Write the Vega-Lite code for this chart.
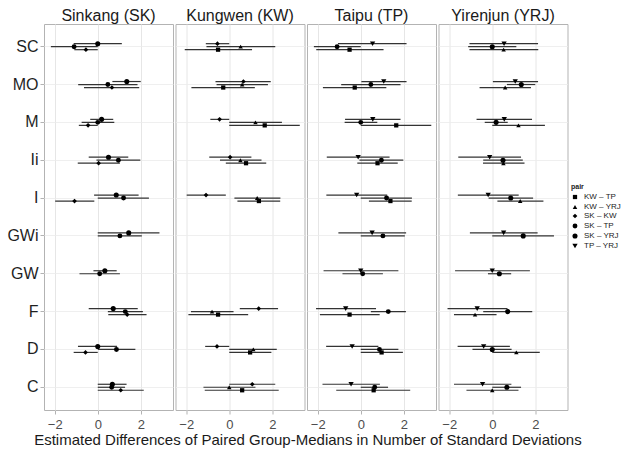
{
  "$schema": "https://vega.github.io/schema/vega-lite/v6.json",
  "padding": {"left": 6, "top": 8, "right": 0, "bottom": 4},
  "background": "white",
  "bounds": "flush",
  "title": {"text": "Estimated Differences of Paired Group-Medians in Number of Standard Deviations", "orient": "bottom", "anchor": "middle", "frame": "bounds", "dx": -6, "fontSize": 15, "fontWeight": "normal", "color": "#1a1a1a", "offset": 2},
  "data": {"values": [
    {"pair": "SK – YRJ", "site": ["Sinkang (SK)", "Yirenjun (YRJ)"], "cat": "SC", "est": 0, "lo": -1.12, "hi": 1.12},
    {"pair": "SK – YRJ", "site": ["Sinkang (SK)", "Yirenjun (YRJ)"], "cat": "MO", "est": 1.35, "lo": 0.68, "hi": 2.0},
    {"pair": "SK – YRJ", "site": ["Sinkang (SK)", "Yirenjun (YRJ)"], "cat": "M", "est": 0.18, "lo": -0.35, "hi": 0.72},
    {"pair": "SK – YRJ", "site": ["Sinkang (SK)", "Yirenjun (YRJ)"], "cat": "Ii", "est": 0.5, "lo": -0.42, "hi": 1.42},
    {"pair": "SK – YRJ", "site": ["Sinkang (SK)", "Yirenjun (YRJ)"], "cat": "I", "est": 0.86, "lo": -0.17, "hi": 1.9},
    {"pair": "SK – YRJ", "site": ["Sinkang (SK)", "Yirenjun (YRJ)"], "cat": "GWi", "est": 1.44, "lo": 0, "hi": 2.87},
    {"pair": "SK – YRJ", "site": ["Sinkang (SK)", "Yirenjun (YRJ)"], "cat": "GW", "est": 0.33, "lo": -0.2, "hi": 0.88},
    {"pair": "SK – YRJ", "site": ["Sinkang (SK)", "Yirenjun (YRJ)"], "cat": "F", "est": 0.72, "lo": -0.42, "hi": 1.86},
    {"pair": "SK – YRJ", "site": ["Sinkang (SK)", "Yirenjun (YRJ)"], "cat": "D", "est": 0, "lo": -0.92, "hi": 0.9},
    {"pair": "SK – YRJ", "site": ["Sinkang (SK)", "Yirenjun (YRJ)"], "cat": "C", "est": 0.68, "lo": 0, "hi": 1.34},

    {"pair": "SK – TP", "site": ["Sinkang (SK)", "Taipu (TP)"], "cat": "SC", "est": -1.1, "lo": -2.18, "hi": 0},
    {"pair": "SK – TP", "site": ["Sinkang (SK)", "Taipu (TP)"], "cat": "MO", "est": 0.47, "lo": -0.91, "hi": 1.85},
    {"pair": "SK – TP", "site": ["Sinkang (SK)", "Taipu (TP)"], "cat": "M", "est": 0, "lo": -0.75, "hi": 0.77},
    {"pair": "SK – TP", "site": ["Sinkang (SK)", "Taipu (TP)"], "cat": "Ii", "est": 0.96, "lo": -0.06, "hi": 1.98},
    {"pair": "SK – TP", "site": ["Sinkang (SK)", "Taipu (TP)"], "cat": "I", "est": 1.2, "lo": 0, "hi": 2.38},
    {"pair": "SK – TP", "site": ["Sinkang (SK)", "Taipu (TP)"], "cat": "GWi", "est": 1.03, "lo": 0, "hi": 2.05},
    {"pair": "SK – TP", "site": ["Sinkang (SK)", "Taipu (TP)"], "cat": "GW", "est": 0.09, "lo": -0.85, "hi": 1.03},
    {"pair": "SK – TP", "site": ["Sinkang (SK)", "Taipu (TP)"], "cat": "F", "est": 1.28, "lo": 0.47, "hi": 2.1},
    {"pair": "SK – TP", "site": ["Sinkang (SK)", "Taipu (TP)"], "cat": "D", "est": 0.87, "lo": 0, "hi": 1.75},
    {"pair": "SK – TP", "site": ["Sinkang (SK)", "Taipu (TP)"], "cat": "C", "est": 0.65, "lo": 0, "hi": 1.27},

    {"pair": "SK – KW", "site": ["Sinkang (SK)", "Kungwen (KW)"], "cat": "SC", "est": -0.55, "lo": -1.09, "hi": 0},
    {"pair": "SK – KW", "site": ["Sinkang (SK)", "Kungwen (KW)"], "cat": "MO", "est": 0.66, "lo": -0.64, "hi": 1.93},
    {"pair": "SK – KW", "site": ["Sinkang (SK)", "Kungwen (KW)"], "cat": "M", "est": -0.45, "lo": -0.88, "hi": 0},
    {"pair": "SK – KW", "site": ["Sinkang (SK)", "Kungwen (KW)"], "cat": "Ii", "est": 0.04, "lo": -0.93, "hi": 1.03},
    {"pair": "SK – KW", "site": ["Sinkang (SK)", "Kungwen (KW)"], "cat": "I", "est": -1.08, "lo": -1.98, "hi": -0.16},
    {"pair": "SK – KW", "site": ["Sinkang (SK)", "Kungwen (KW)"], "cat": "F", "est": 1.37, "lo": 0.49, "hi": 2.27},
    {"pair": "SK – KW", "site": ["Sinkang (SK)", "Kungwen (KW)"], "cat": "D", "est": -0.57, "lo": -1.12, "hi": 0},
    {"pair": "SK – KW", "site": ["Sinkang (SK)", "Kungwen (KW)"], "cat": "C", "est": 1.07, "lo": 0, "hi": 2.14},

    {"pair": "KW – YRJ", "site": ["Kungwen (KW)", "Yirenjun (YRJ)"], "cat": "SC", "est": 0.53, "lo": -1.06, "hi": 2.14},
    {"pair": "KW – YRJ", "site": ["Kungwen (KW)", "Yirenjun (YRJ)"], "cat": "MO", "est": 0.6, "lo": -0.59, "hi": 1.8},
    {"pair": "KW – YRJ", "site": ["Kungwen (KW)", "Yirenjun (YRJ)"], "cat": "M", "est": 1.22, "lo": 0, "hi": 2.45},
    {"pair": "KW – YRJ", "site": ["Kungwen (KW)", "Yirenjun (YRJ)"], "cat": "Ii", "est": 0.52, "lo": -0.43, "hi": 1.5},
    {"pair": "KW – YRJ", "site": ["Kungwen (KW)", "Yirenjun (YRJ)"], "cat": "I", "est": 1.3, "lo": 0.24, "hi": 2.38},
    {"pair": "KW – YRJ", "site": ["Kungwen (KW)", "Yirenjun (YRJ)"], "cat": "F", "est": -0.8, "lo": -1.78, "hi": 0.2},
    {"pair": "KW – YRJ", "site": ["Kungwen (KW)", "Yirenjun (YRJ)"], "cat": "D", "est": 1.12, "lo": 0, "hi": 2.21},
    {"pair": "KW – YRJ", "site": ["Kungwen (KW)", "Yirenjun (YRJ)"], "cat": "C", "est": 0, "lo": -1.2, "hi": 1.22},

    {"pair": "KW – TP", "site": ["Kungwen (KW)", "Taipu (TP)"], "cat": "SC", "est": -0.52, "lo": -2.07, "hi": 1.06},
    {"pair": "KW – TP", "site": ["Kungwen (KW)", "Taipu (TP)"], "cat": "MO", "est": -0.28, "lo": -1.76, "hi": 1.19},
    {"pair": "KW – TP", "site": ["Kungwen (KW)", "Taipu (TP)"], "cat": "M", "est": 1.65, "lo": 0, "hi": 3.28},
    {"pair": "KW – TP", "site": ["Kungwen (KW)", "Taipu (TP)"], "cat": "Ii", "est": 0.78, "lo": -0.16, "hi": 1.72},
    {"pair": "KW – TP", "site": ["Kungwen (KW)", "Taipu (TP)"], "cat": "I", "est": 1.38, "lo": 0.38, "hi": 2.37},
    {"pair": "KW – TP", "site": ["Kungwen (KW)", "Taipu (TP)"], "cat": "F", "est": -0.52, "lo": -1.9, "hi": 0.88},
    {"pair": "KW – TP", "site": ["Kungwen (KW)", "Taipu (TP)"], "cat": "D", "est": 0.97, "lo": 0, "hi": 1.96},
    {"pair": "KW – TP", "site": ["Kungwen (KW)", "Taipu (TP)"], "cat": "C", "est": 0.6, "lo": -1.14, "hi": 2.3},

    {"pair": "TP – YRJ", "site": ["Taipu (TP)", "Yirenjun (YRJ)"], "cat": "SC", "est": 0.55, "lo": -1.06, "hi": 2.13},
    {"pair": "TP – YRJ", "site": ["Taipu (TP)", "Yirenjun (YRJ)"], "cat": "MO", "est": 1.07, "lo": 0.03, "hi": 2.13},
    {"pair": "TP – YRJ", "site": ["Taipu (TP)", "Yirenjun (YRJ)"], "cat": "M", "est": 0.56, "lo": -0.73, "hi": 1.85},
    {"pair": "TP – YRJ", "site": ["Taipu (TP)", "Yirenjun (YRJ)"], "cat": "Ii", "est": -0.12, "lo": -1.58, "hi": 1.34},
    {"pair": "TP – YRJ", "site": ["Taipu (TP)", "Yirenjun (YRJ)"], "cat": "I", "est": -0.19, "lo": -1.6, "hi": 1.23},
    {"pair": "TP – YRJ", "site": ["Taipu (TP)", "Yirenjun (YRJ)"], "cat": "GWi", "est": 0.53, "lo": -1.04, "hi": 2.11},
    {"pair": "TP – YRJ", "site": ["Taipu (TP)", "Yirenjun (YRJ)"], "cat": "GW", "est": 0, "lo": -1.73, "hi": 1.75},
    {"pair": "TP – YRJ", "site": ["Taipu (TP)", "Yirenjun (YRJ)"], "cat": "F", "est": -0.7, "lo": -2.08, "hi": 0.71},
    {"pair": "TP – YRJ", "site": ["Taipu (TP)", "Yirenjun (YRJ)"], "cat": "D", "est": -0.4, "lo": -1.61, "hi": 0.82},
    {"pair": "TP – YRJ", "site": ["Taipu (TP)", "Yirenjun (YRJ)"], "cat": "C", "est": -0.45, "lo": -1.78, "hi": 0.89}
  ]},
  "transform": [{"flatten": ["site"]}],
  "facet": {
    "column": {
      "field": "site", "type": "nominal",
      "sort": ["Sinkang (SK)", "Kungwen (KW)", "Taipu (TP)", "Yirenjun (YRJ)"],
      "header": {"title": null, "labelFontSize": 16, "labelColor": "#1a1a1a", "labelPadding": 0}
    }
  },
  "spacing": 2.5,
  "spec": {
    "width": 129,
    "height": 386,
    "encoding": {
      "y": {
        "field": "cat", "type": "nominal", "title": null,
        "sort": ["SC", "MO", "M", "Ii", "I", "GWi", "GW", "F", "D", "C"],
        "scale": {"type": "band", "paddingInner": 0, "paddingOuter": 0.1},
        "axis": {"labelFontSize": 16, "labelColor": "#1f1f1f", "tickColor": "#b3b3b3", "tickSize": 4, "labelPadding": 2, "domain": false, "grid": true, "gridColor": "#ebebeb", "gridWidth": 0.8}
      },
      "yOffset": {
        "field": "pair", "type": "nominal", "sort": "descending",
        "scale": {"type": "point", "range": [14.4, 23.4]}
      }
    },
    "layer": [
      {
        "mark": {"type": "rule", "color": "#333333", "strokeWidth": 1.2},
        "encoding": {
          "x": {
            "field": "lo", "type": "quantitative", "title": null,
            "scale": {"domain": [-2.5, 3.5], "nice": false, "zero": false},
            "axis": {
              "values": [-2, -1, 0, 1, 2, 3],
              "labelExpr": "datum.value % 2 === 0 ? datum.label : ''",
              "labelFontSize": 13, "labelColor": "#4d4d4d", "labelPadding": 4,
              "tickSize": 4,
              "tickColor": {"condition": {"test": "datum.value % 2 === 0", "value": "#b3b3b3"}, "value": "rgba(0,0,0,0)"},
              "domain": false, "grid": true,
              "gridColor": {"condition": {"test": "datum.value % 2 === 0", "value": "#e6e6e6"}, "value": "#f2f2f2"}
            }
          },
          "x2": {"field": "hi"}
        }
      },
      {
        "mark": {"type": "point", "filled": true, "color": "#000000", "opacity": 1},
        "encoding": {
          "x": {"field": "est", "type": "quantitative", "title": null},
          "shape": {
            "field": "pair", "type": "nominal",
            "scale": {"domain": ["KW – TP", "KW – YRJ", "SK – KW", "SK – TP", "SK – YRJ", "TP – YRJ"], "range": ["square", "triangle-up", "diamond", "circle", "circle", "triangle-down"]},
            "legend": {"title": "pair", "titleFontSize": 7, "labelFontSize": 8, "labelLimit": 44, "labelOffset": 5, "rowPadding": -2, "titlePadding": 3, "orient": "none", "legendX": 527, "legendY": 159, "labelColor": "#1a1a1a", "titleColor": "#1a1a1a"}
          },
          "size": {
            "field": "pair", "type": "nominal",
            "scale": {"domain": ["KW – TP", "KW – YRJ", "SK – KW", "SK – TP", "SK – YRJ", "TP – YRJ"], "range": [18, 28, 14, 20, 8, 28]},
            "legend": {"title": "pair", "titleFontSize": 7, "labelFontSize": 8, "labelLimit": 44, "labelOffset": 5, "rowPadding": -2, "titlePadding": 3, "orient": "none", "legendX": 527, "legendY": 159, "labelColor": "#1a1a1a", "titleColor": "#1a1a1a"}
          }
        }
      }
    ]
  },
  "resolve": {"scale": {"yOffset": "independent"}},
  "config": {
    "font": "Liberation Sans",
    "view": {"stroke": "#b3b3b3", "strokeWidth": 1}
  }
}
